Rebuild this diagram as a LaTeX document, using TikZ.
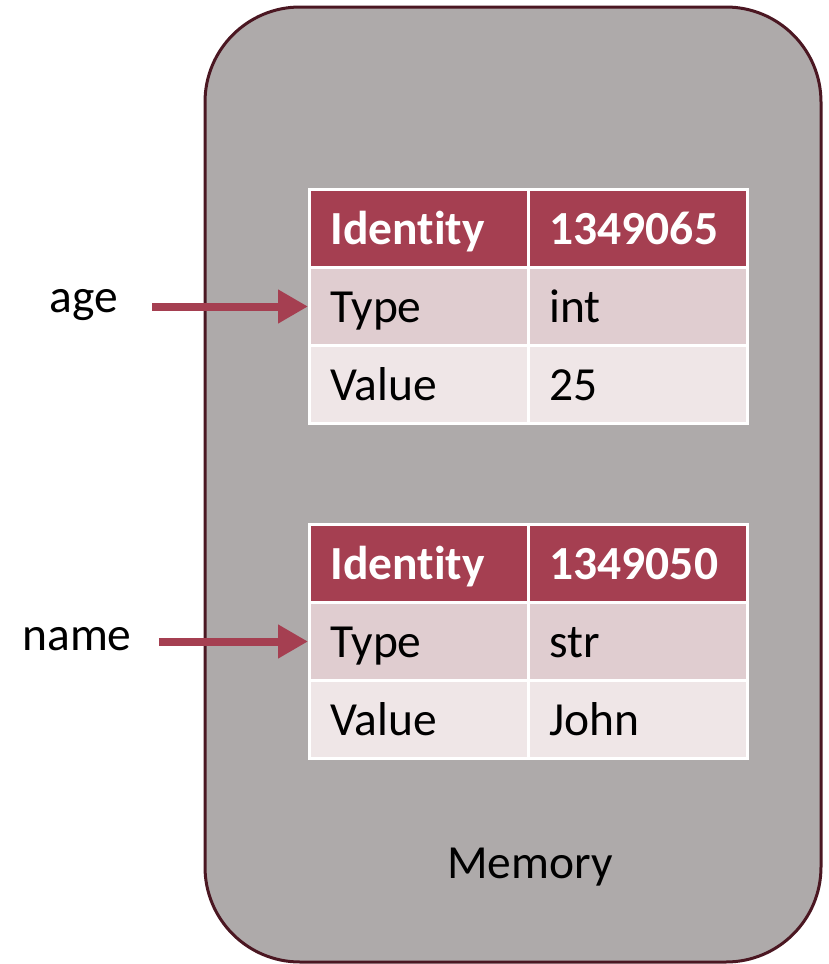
\documentclass[tikz,border=0pt]{standalone}
\usepackage{fontspec}
\setmainfont{Carlito}[Ligatures=NoCommon]
\usetikzlibrary{arrows.meta}

\definecolor{memfill}{HTML}{AEAAAA}
\definecolor{memline}{HTML}{4B1722}
\definecolor{hdrred}{HTML}{A53F51}
\definecolor{rowmid}{HTML}{E0CDD0}
\definecolor{rowlight}{HTML}{EFE6E7}

\tikzset{
  cell/.style={draw=white, line width=3pt, anchor=north west,
    minimum width=219pt, minimum height=78pt, inner xsep=21pt, inner ysep=0pt,
    text width=177pt, align=left, text height=32pt, text depth=0pt,
    font=\fontsize{47.5}{57}\selectfont},
  hdr/.style={cell, fill=hdrred, text=white, font=\fontsize{47.5}{57}\selectfont\bfseries},
  midrow/.style={cell, fill=rowmid},
  lightrow/.style={cell, fill=rowlight},
  varlabel/.style={inner sep=0pt, font=\fontsize{47.5}{57}\selectfont},
  ptr/.style={draw=hdrred, line width=8pt,
    -{Triangle[length=30pt, width=32pt]}, shorten <=34pt}
}

\begin{document}
\begin{tikzpicture}[x=1pt, y=-1pt]
  \useasboundingbox (0,0) rectangle (828,964);

  % memory region
  \draw[fill=memfill, draw=memline, line width=3pt, rounded corners=95pt]
    (205,7) rectangle (821,962);
  \node[varlabel, anchor=base] (memlbl) at (530,878) {Memory};

  % object: age
  \node[hdr]      (a11) at (308,188) {Identity};
  \node[hdr]      (a12) at (527,188) {1349065};
  \node[midrow]   (a21) at (308,266) {Type};
  \node[midrow]   (a22) at (527,266) {int};
  \node[lightrow] (a31) at (308,344) {Value};
  \node[lightrow] (a32) at (527,344) {25};

  % object: name
  \node[hdr]      (b11) at (308,523) {Identity};
  \node[hdr]      (b12) at (527,523) {1349050};
  \node[midrow]   (b21) at (308,601) {Type};
  \node[midrow]   (b22) at (527,601) {str};
  \node[lightrow] (b31) at (308,679) {Value};
  \node[lightrow] (b32) at (527,679) {John};

  % variable names and their references
  \node[varlabel, anchor=base] (agelbl) at (84,312) {age};
  \node[varlabel, anchor=base] (namelbl) at (77,650) {name};

  \draw[ptr] (agelbl.east |- a21.west) -- (a21.west);
  \draw[ptr, shorten <=27pt] (namelbl.east |- b21.west) -- (b21.west);
\end{tikzpicture}
\end{document}
